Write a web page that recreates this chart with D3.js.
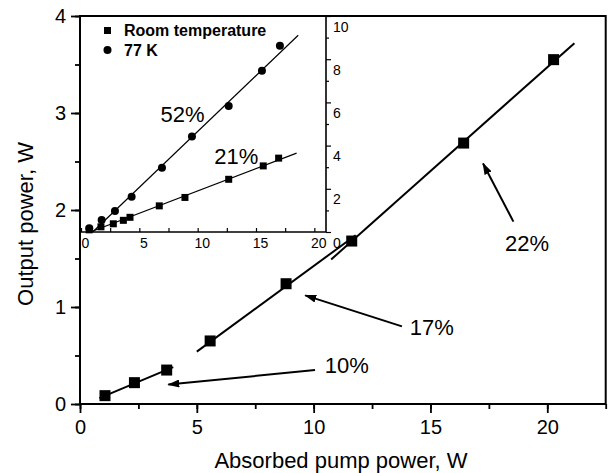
<!DOCTYPE html>
<html>
<head>
<meta charset="utf-8">
<script src="https://cdn.jsdelivr.net/npm/d3@7"></script>
<style>
  html, body { margin: 0; padding: 0; background: #fff; }
  svg { display: block; font-family: "Liberation Sans", Arial, Helvetica, sans-serif; }
</style>
</head>
<body>
<svg id="chart" width="612" height="473"></svg>
<script>
// ---------- Main chart data ----------
const mainX = [1.07, 2.33, 3.71, 5.57, 8.82, 11.63, 16.42, 20.27];
const mainY = [0.086, 0.22, 0.35, 0.65, 1.24, 1.68, 2.69, 3.55];

// linear fit segments (data units)
const fitStartX = [0.83, 5.0, 10.75];
const fitStartY = [0.06, 0.54, 1.49];
const fitEndX   = [3.99, 11.8, 21.16];
const fitEndY   = [0.38, 1.74, 3.72];

// efficiency annotations
const effLabels   = ["10%", "17%", "22%"];
const effLabelX   = [11.42, 15.06, 19.13];
const effLabelY   = [0.32, 0.71, 1.58];
const arrowTailX  = [10.06, 13.78, 18.55];
const arrowTailY  = [0.35, 0.80, 1.88];
const arrowHeadX  = [3.78, 9.64, 17.25];
const arrowHeadY  = [0.20, 1.12, 2.48];

const mainXTicks = [0, 5, 10, 15, 20];
const mainYTicks = [0, 1, 2, 3, 4];

// ---------- Inset data ----------
const roomX = [0.70, 1.71, 2.77, 3.63, 4.20, 6.71, 8.91, 12.66, 15.62, 16.94];
const roomY = [0.10, 0.24, 0.38, 0.54, 0.68, 1.21, 1.60, 2.44, 3.06, 3.42];
const coldX = [0.71, 1.77, 2.91, 4.34, 6.94, 9.51, 12.66, 15.51, 17.05];
const coldY = [0.17, 0.55, 0.97, 1.63, 2.98, 4.42, 5.83, 7.46, 8.62];

const insetFitStartX = [0.8, 1.0];
const insetFitStartY = [0.0, 0.0];
const insetFitEndX   = [18.48, 18.62];
const insetFitEndY   = [3.65, 9.11];

const insetLabels = ["21%", "52%"];
const insetLabelX = [13.31, 8.70];
const insetLabelY = [3.17, 5.08];

const insetXTicks = [0, 5, 10, 15, 20];
const insetYTicks = [0, 2, 4, 6, 8, 10];
const legendNames = ["Room temperature", "77 K"];

// ---------- Setup ----------
const svg = d3.select("#chart");
const L = 80, R = 605.7, T = 16, B = 404;

const x = d3.scaleLinear().domain([0, 22.5]).range([L, R]);
const y = d3.scaleLinear().domain([0, 4]).range([B, T]);

const xi = d3.scaleLinear().domain([0, 21]).range([81, 326]);
const yi = d3.scaleLinear().domain([0, 10]).range([232, 16]);

// defs: arrowhead
svg.append("defs").append("marker")
  .attr("id", "ah").attr("viewBox", "0 0 12 8")
  .attr("refX", 11).attr("refY", 4)
  .attr("markerWidth", 12).attr("markerHeight", 8)
  .attr("markerUnits", "userSpaceOnUse")
  .attr("orient", "auto")
  .append("path").attr("d", "M0,0 L12,4 L0,8 Z").attr("fill", "#000");

// ---------- Main axes ----------
function styleAxis(g, fs) {
  g.select(".domain").remove();
  g.selectAll(".tick line").attr("stroke", "#000").attr("stroke-width", 1.8);
  g.selectAll("text").attr("fill", "#000").attr("font-size", fs)
    .attr("font-family", "'Liberation Sans', Arial, sans-serif");
}

// minor ticks
const gxm = svg.append("g").attr("transform", `translate(0,${B})`)
  .call(d3.axisBottom(x).tickValues(d3.range(0, 22.51, 2.5)).tickSize(5).tickFormat(""));
styleAxis(gxm, 20);
const gym = svg.append("g").attr("transform", `translate(${L},0)`)
  .call(d3.axisLeft(y).tickValues(d3.range(0, 4.01, 0.5)).tickSize(5).tickFormat(""));
styleAxis(gym, 20);

const gx = svg.append("g").attr("transform", `translate(0,${B})`)
  .call(d3.axisBottom(x).tickValues(mainXTicks).tickSize(9).tickPadding(7).tickFormat(d3.format("d")));
styleAxis(gx, 20);
const gy = svg.append("g").attr("transform", `translate(${L},0)`)
  .call(d3.axisLeft(y).tickValues(mainYTicks).tickSize(9).tickPadding(5).tickFormat(d3.format("d")));
styleAxis(gy, 20);

// frame
svg.append("rect").attr("x", L).attr("y", T).attr("width", R - L).attr("height", B - T)
  .attr("fill", "none").attr("stroke", "#000").attr("stroke-width", 2);

// titles
svg.append("text").attr("x", 341).attr("y", 468).attr("text-anchor", "middle")
  .attr("font-size", 22).text("Absorbed pump power, W");
svg.append("text").attr("transform", "translate(33,224) rotate(-90)").attr("text-anchor", "middle")
  .attr("font-size", 22).text("Output power, W");

// ---------- Main data ----------
const fits = fitStartX.map((d, i) => ({x0: d, y0: fitStartY[i], x1: fitEndX[i], y1: fitEndY[i]}));
svg.append("g").selectAll("line").data(fits).join("line")
  .attr("x1", d => x(d.x0)).attr("y1", d => y(d.y0))
  .attr("x2", d => x(d.x1)).attr("y2", d => y(d.y1))
  .attr("stroke", "#000").attr("stroke-width", 2);

const pts = mainX.map((d, i) => ({x: d, y: mainY[i]}));
const sq = 11;
svg.append("g").selectAll("rect").data(pts).join("rect")
  .attr("x", d => x(d.x) - sq / 2).attr("y", d => y(d.y) - sq / 2)
  .attr("width", sq).attr("height", sq).attr("fill", "#000");

const arrows = arrowTailX.map((d, i) => ({x0: d, y0: arrowTailY[i], x1: arrowHeadX[i], y1: arrowHeadY[i]}));
svg.append("g").selectAll("line").data(arrows).join("line")
  .attr("x1", d => x(d.x0)).attr("y1", d => y(d.y0))
  .attr("x2", d => x(d.x1)).attr("y2", d => y(d.y1))
  .attr("stroke", "#000").attr("stroke-width", 2)
  .attr("marker-end", "url(#ah)");

svg.append("g").selectAll("text").data(effLabels).join("text")
  .attr("x", (d, i) => x(effLabelX[i])).attr("y", (d, i) => y(effLabelY[i]))
  .attr("text-anchor", "middle").attr("font-size", 22).text(d => d);

// ---------- Inset ----------
const gi = svg.append("g");
// inset x axis (ticks inward)
const gix = gi.append("g").attr("transform", `translate(0,${yi(0)})`)
  .call(d3.axisBottom(xi).tickValues(d3.range(0, 20.01, 2.5)).tickSize(-4).tickFormat(""));
gix.select(".domain").remove();
gix.selectAll(".tick line").attr("stroke", "#000").attr("stroke-width", 1.2);
const gixl = gi.append("g").attr("transform", `translate(0,${yi(0)})`)
  .call(d3.axisBottom(xi).tickValues(insetXTicks).tickSize(0).tickPadding(6).tickFormat(d3.format("d")));
gixl.select(".domain").remove();
gixl.selectAll("text").attr("font-size", 14).attr("fill", "#000").attr("dx", 4)
  .attr("font-family", "'Liberation Sans', Arial, sans-serif");

// inset y axis on right (ticks outward)
const giym = gi.append("g").attr("transform", `translate(${xi(21)},0)`)
  .call(d3.axisRight(yi).tickValues(d3.range(1, 10, 2)).tickSize(3).tickFormat(""));
giym.select(".domain").remove();
giym.selectAll(".tick line").attr("stroke", "#000").attr("stroke-width", 1.2);
const giy = gi.append("g").attr("transform", `translate(${xi(21)},0)`)
  .call(d3.axisRight(yi).tickValues(insetYTicks).tickSize(5).tickPadding(2).tickFormat(d3.format("d")));
giy.select(".domain").remove();
giy.selectAll(".tick line").attr("stroke", "#000").attr("stroke-width", 1.2);
giy.selectAll("text").attr("font-size", 14).attr("fill", "#000").attr("dy", 15)
  .attr("font-family", "'Liberation Sans', Arial, sans-serif");

// inset axis lines
gi.append("line").attr("x1", xi(0)).attr("x2", xi(21)).attr("y1", yi(0)).attr("y2", yi(0))
  .attr("stroke", "#000").attr("stroke-width", 1.6);
gi.append("line").attr("x1", xi(21)).attr("x2", xi(21)).attr("y1", yi(0)).attr("y2", T)
  .attr("stroke", "#000").attr("stroke-width", 1.6);

// inset fits
const ifits = insetFitStartX.map((d, i) => ({x0: d, y0: insetFitStartY[i], x1: insetFitEndX[i], y1: insetFitEndY[i]}));
gi.append("g").selectAll("line").data(ifits).join("line")
  .attr("x1", d => xi(d.x0)).attr("y1", d => yi(d.y0))
  .attr("x2", d => xi(d.x1)).attr("y2", d => yi(d.y1))
  .attr("stroke", "#000").attr("stroke-width", 1.2);

const roomPts = roomX.map((d, i) => ({x: d, y: roomY[i]}));
const coldPts = coldX.map((d, i) => ({x: d, y: coldY[i]}));
const isq = 7;
gi.append("g").selectAll("rect").data(roomPts).join("rect")
  .attr("x", d => xi(d.x) - isq / 2).attr("y", d => yi(d.y) - isq / 2)
  .attr("width", isq).attr("height", isq).attr("fill", "#000");
gi.append("g").selectAll("circle").data(coldPts).join("circle")
  .attr("cx", d => xi(d.x)).attr("cy", d => yi(d.y)).attr("r", 4).attr("fill", "#000");

gi.append("g").selectAll("text").data(insetLabels).join("text")
  .attr("x", (d, i) => xi(insetLabelX[i])).attr("y", (d, i) => yi(insetLabelY[i]))
  .attr("text-anchor", "middle").attr("font-size", 22).text(d => d);

// legend
const lg = gi.append("g");
lg.append("rect").attr("x", 104).attr("y", 27).attr("width", 7).attr("height", 7).attr("fill", "#000");
lg.append("circle").attr("cx", 107.5).attr("cy", 50).attr("r", 4).attr("fill", "#000");
lg.selectAll("text").data(legendNames).join("text")
  .attr("x", 124).attr("y", (d, i) => 35.5 + i * 20)
  .attr("font-size", 16).attr("font-weight", "bold").text(d => d);
</script>
</body>
</html>
